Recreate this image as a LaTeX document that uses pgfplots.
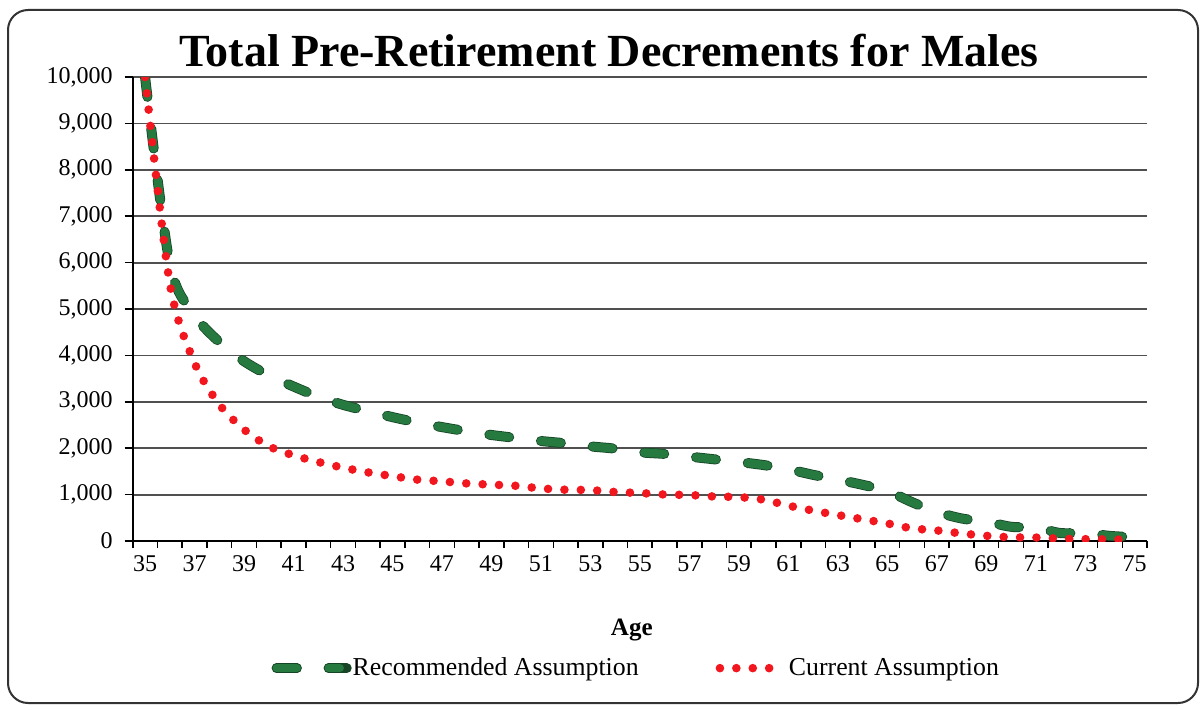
\documentclass[border=0pt]{standalone}
\usepackage{fontspec}
\setmainfont{Liberation Serif}
\usepackage{pgfplots}
\pgfplotsset{compat=1.18}
\definecolor{recgreen}{RGB}{38,122,64}
\definecolor{recdark}{RGB}{22,70,38}
\definecolor{curred}{RGB}{242,22,30}
\definecolor{gridgray}{RGB}{80,80,80}
\pgfplotsset{
  greenleg/.style={legend image code/.code={\path[draw=none] (0pt,0pt) -- (35pt,0pt); \draw[##1] (0pt,0pt) -- (31.5pt,0pt);}},
  redleg/.style={legend image code/.code={\path[draw=none] (0pt,0pt) -- (36pt,0pt); \draw[##1] (2pt,0pt) -- (26.6pt,0pt);}},
}
\begin{document}
\begin{tikzpicture}[x=1pt,y=1pt]
\useasboundingbox (0,0) rectangle (601.5,354.5);
\draw[line width=1pt, black!80, rounded corners=10pt] (4,3) rectangle (599,349.5);
\node[anchor=base, font=\fontsize{23}{27}\selectfont\bfseries] at (304.5,321.5) {Total Pre-Retirement Decrements for Males};
\begin{axis}[
  at={(66.35pt,84pt)}, anchor=south west,
  scale only axis, width=507.2pt, height=232pt,
  xmin=34.5, xmax=75.5, ymin=0, ymax=10000,
  axis lines=left, axis line style={-, black, line width=1pt},
  xtick={35,37,...,75},
  minor xtick={34.5,35.5,...,75.5},
  ytick={0,1000,...,10000},
  tick align=outside,
  major tick length=4pt, minor tick length=3.5pt,
  major x tick style={draw=none},
  minor x tick style={black, line width=0.8pt},
  major y tick style={black, line width=0.8pt},
  ymajorgrids, major grid style={gridgray, line width=0.9pt},
  scaled y ticks=false,
  /pgf/number format/assume math mode=true,
  /pgf/number format/1000 sep={,},
  tick label style={font=\fontsize{12}{14}\selectfont},
  yticklabel style={xshift=-2.5pt},
  xlabel={\textbf{Age}},
  xlabel style={at={(axis description cs:0.492,-0.192)}, anchor=center, font=\fontsize{12.5}{14}\selectfont},
  legend columns=2,
  legend style={at={(0.496,-0.274)}, anchor=center, draw=none, fill=none,
    font=\fontsize{12.9}{14}\selectfont,
    nodes={inner xsep=0.5pt},
    /tikz/every even column/.append style={column sep=38pt}},
  legend cell align=left,
  clip=true,
]
\addplot[recgreen, line width=4.2pt, dash pattern=on 10pt off 16pt, line cap=round, smooth, tension=0.5,
  preaction={draw, recdark, line width=5pt, dash pattern=on 10pt off 16pt, line cap=round}, greenleg]
coordinates {
(35,10000)(36,5970)(37,4870)(38,4290)(39,3875)(40,3570)(41,3330)(42,3110)(43,2935)(44,2800)
(45,2670)(46,2555)(47,2455)(48,2365)(49,2285)(50,2220)(51,2155)(52,2105)(53,2040)(54,1990)
(55,1912)(56,1877)(57,1819)(58,1761)(59,1703)(60,1637)(61,1546)(62,1426)(63,1323)(64,1211)
(65,1077)(66,837)(67,626)(68,486)(69,417)(70,307)(71,286)(72,172)(73,172)(74,110)(75,80)
};
\addlegendentry{Recommended Assumption}
\addplot[curred, line width=4.3pt, dash pattern=on 0pt off 8.2pt, line cap=round, smooth, tension=0.5, redleg]
coordinates {
(35,10000)(36,5550)(37,3840)(38,2944)(39,2402)(40,2043)(41,1847)(42,1703)(43,1581)(44,1480)
(45,1398)(46,1323)(47,1286)(48,1241)(49,1215)(50,1189)(51,1133)(52,1105)(53,1097)(54,1056)
(55,1034)(56,1002)(57,991)(58,959)(59,946)(60,890)(61,763)(62,655)(63,559)(64,469)
(65,378)(66,273)(67,228)(68,163)(69,112)(70,80)(71,75)(72,50)(73,40)(74,35)(75,20)
};
\addlegendentry{Current Assumption}
\end{axis}
\end{tikzpicture}
\end{document}
